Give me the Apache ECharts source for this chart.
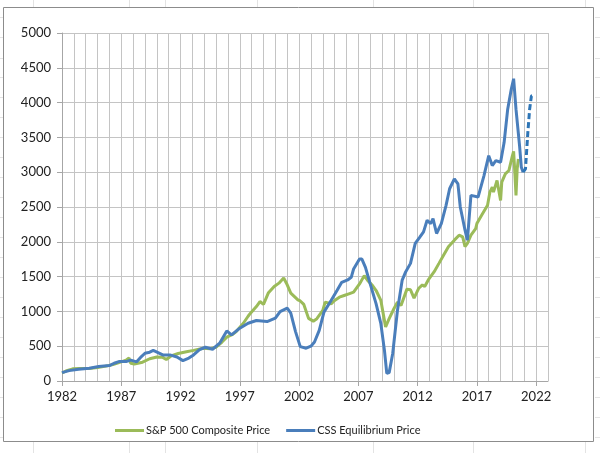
<!DOCTYPE html>
<html>
<head>
<meta charset="utf-8">
<script src="https://cdn.jsdelivr.net/npm/echarts@6/dist/echarts.min.js"></script>
<style>
html,body{margin:0;padding:0;background:#fff;}
#chart{width:600px;height:453px;}
</style>
</head>
<body>
<div id="chart"></div>
<script>
// ---- data ----
var spYears = [1982.0,1982.4,1982.9,1983.5,1984.3,1985.0,1985.6,1986.3,1987.0,1987.4,1987.65,1987.8,1988.1,1988.8,1989.4,1990.0,1990.5,1990.8,1991.2,1991.8,1992.5,1993.1,1993.9,1994.5,1995.0,1995.5,1995.9,1996.4,1996.7,1997.3,1997.7,1997.9,1998.4,1998.7,1999.0,1999.4,1999.9,2000.3,2000.7,2001.0,2001.3,2001.9,2002.1,2002.4,2002.8,2003.2,2003.5,2004.0,2004.2,2004.7,2005.0,2005.4,2005.8,2006.2,2006.6,2007.1,2007.5,2007.8,2008.2,2008.5,2008.9,2009.2,2009.3,2009.6,2010.0,2010.3,2010.6,2011.1,2011.4,2011.7,2012.1,2012.4,2012.6,2012.9,2013.4,2013.8,2014.2,2014.6,2015.1,2015.5,2015.8,2016.0,2016.2,2016.5,2016.9,2017.0,2017.4,2017.9,2018.1,2018.3,2018.4,2018.7,2019.0,2019.1,2019.4,2019.7,2020.0,2020.1,2020.2,2020.3,2020.4,2020.5];
var spValues = [115,149,175,180,178,195,210,235,275,300,330,255,245,270,320,345,340,310,360,395,420,440,470,465,485,560,630,670,710,830,930,975,1070,1142,1100,1263,1358,1406,1480,1382,1263,1166,1150,1100,900,860,895,1014,1133,1109,1157,1204,1228,1252,1276,1395,1514,1442,1371,1300,1157,871,776,895,1038,1133,1085,1320,1310,1190,1333,1381,1357,1452,1571,1690,1810,1929,2024,2095,2071,1930,1976,2095,2190,2262,2381,2524,2714,2786,2714,2881,2595,2857,2976,3024,3238,3300,3000,2667,3048,3190];

var cssYears = [1982.0,1982.6,1983.4,1984.3,1985.1,1986.0,1986.4,1986.8,1987.4,1987.8,1988.3,1988.7,1989.0,1989.4,1989.7,1990.1,1990.5,1991.1,1991.7,1992.2,1992.7,1993.1,1993.6,1994.1,1994.7,1995.3,1995.9,1996.3,1997.0,1997.7,1998.4,1999.3,2000.0,2000.4,2001.0,2001.3,2001.7,2002.1,2002.6,2003.0,2003.3,2003.7,2004.1,2004.7,2005.2,2005.6,2006.1,2006.4,2006.6,2007.1,2007.3,2007.6,2008.0,2008.5,2008.9,2009.2,2009.4,2009.6,2009.9,2010.3,2010.7,2011.0,2011.4,2011.8,2012.2,2012.5,2012.8,2013.1,2013.3,2013.6,2014.0,2014.4,2014.7,2015.1,2015.4,2015.6,2016.0,2016.2,2016.5,2017.1,2017.6,2018.0,2018.3,2018.6,2019.0,2019.3,2019.6,2019.9,2020.1,2020.3,2020.6,2020.75,2020.9];
var cssValues = [120,149,168,183,207,221,255,279,279,300,275,351,399,414,440,409,375,375,345,293,330,375,450,485,456,543,720,662,759,830,869,854,903,998,1047,975,710,494,471,500,560,728,990,1157,1300,1418,1452,1490,1609,1752,1752,1633,1395,1109,823,443,110,120,395,1014,1450,1571,1690,1976,2071,2143,2310,2262,2333,2119,2262,2524,2762,2905,2833,2500,2167,2024,2667,2643,2952,3238,3095,3167,3143,3429,3905,4190,4343,3905,3381,3071,3000];

var forecastYears = [2020.9,2021.1,2021.3,2021.45,2021.6,2021.8];
var forecastValues = [3000,3048,3571,3905,4095,4105];

var xTickLabels = [1982,1987,1992,1997,2002,2007,2012,2017,2022];
var yMin = 0, yMax = 5000, yStep = 500;
var xMin = 1982, xMax = 2023;

function zip(a, b){ return a.map(function(v,i){ return [v, b[i]]; }); }

var chart = echarts.init(document.getElementById('chart'), null, {renderer:'canvas'});
var font = 'Lato, "Open Sans", sans-serif';

// faint spreadsheet cell lines outside the chart frame
var sheetV = [33,129,165,257,373,473,585];
var sheetH = [17,37,58,77,97,117,137,157,177,197,217,237,257,277,297,317,337,357,377,397,417,437];
var g = [];
sheetV.forEach(function(x){
  g.push({type:'line', silent:true, z:-10, shape:{x1:x+0.5,y1:0,x2:x+0.5,y2:8}, style:{stroke:'#e3e3e3',lineWidth:1}});
  g.push({type:'line', silent:true, z:-10, shape:{x1:x+0.5,y1:442,x2:x+0.5,y2:453}, style:{stroke:'#e3e3e3',lineWidth:1}});
});
sheetH.forEach(function(y){
  g.push({type:'line', silent:true, z:-10, shape:{x1:0,y1:y+0.5,x2:3,y2:y+0.5}, style:{stroke:'#e3e3e3',lineWidth:1}});
  g.push({type:'line', silent:true, z:-10, shape:{x1:595,y1:y+0.5,x2:600,y2:y+0.5}, style:{stroke:'#e3e3e3',lineWidth:1}});
});
g.push({type:'rect', silent:true, z:-5, shape:{x:3.5,y:7.5,width:590,height:434}, style:{fill:'#fff',stroke:'#8c8c8c',lineWidth:1}});

chart.setOption({
  animation:false,
  backgroundColor:'#fff',
  graphic:g,
  grid:{left:62,right:52,top:33,bottom:72,containLabel:false},
  legend:{
    data:['S&P 500 Composite Price','CSS Equilibrium Price'],
    left:110, top:420,
    itemWidth:29, itemHeight:3, itemGap:16,
    icon:'rect',
    textStyle:{fontFamily:font,fontSize:11,color:'#222', padding:[0,0,0,-3]}
  },
  xAxis:[{
    type:'value', min:xMin, max:xMax, interval:1, position:'bottom',
    axisLine:{show:true,lineStyle:{color:'#a6a6a6',width:1}},
    axisTick:{show:true,length:5,inside:false,customValues:xTickLabels,lineStyle:{color:'#a6a6a6'}},
    axisLabel:{customValues:xTickLabels,formatter:function(v){return String(v);},fontFamily:font,fontSize:13,color:'#222',margin:9},
    splitLine:{show:false}
  },{
    type:'value', min:xMin, max:xMax, interval:1, position:'bottom',
    axisLine:{show:false}, axisTick:{show:false}, axisLabel:{show:false},
    splitLine:{show:true,lineStyle:{color:'#c4c4c4',width:1}}
  }],
  yAxis:{
    type:'value', min:yMin, max:yMax, interval:yStep,
    axisLine:{show:true,lineStyle:{color:'#a6a6a6',width:1}},
    axisTick:{show:true,length:5,inside:false,lineStyle:{color:'#a6a6a6'}},
    axisLabel:{fontFamily:font,fontSize:13,color:'#222',margin:11,formatter:function(v){return String(v);}},
    splitLine:{show:true,lineStyle:{color:'#c4c4c4',width:1}}
  },
  series:[
    {name:'S&P 500 Composite Price', type:'line', data:zip(spYears,spValues), showSymbol:false, symbol:'none',
     color:'#9bbb59', lineStyle:{color:'#9bbb59',width:3}, z:2},
    {name:'CSS Equilibrium Price', type:'line', data:zip(cssYears,cssValues), showSymbol:false, symbol:'none',
     color:'#4a7ebb', lineStyle:{color:'#4a7ebb',width:3}, z:3},
    {name:'CSS Forecast', type:'line', data:zip(forecastYears,forecastValues), showSymbol:false, symbol:'none',
     color:'#2e75b6', lineStyle:{color:'#2e75b6',width:3,type:[6,3]}, z:3}
  ]
});
</script>
</body>
</html>
